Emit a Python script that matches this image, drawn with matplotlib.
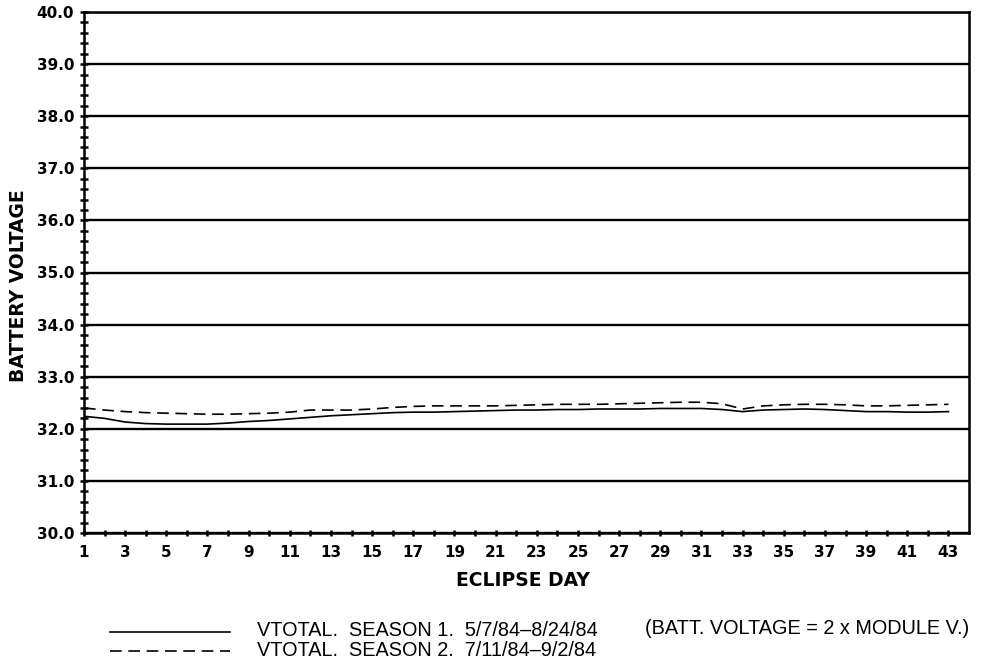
import matplotlib
matplotlib.use("Agg")
import matplotlib.pyplot as plt
import numpy as np

days = list(range(1, 44))
season1 = [32.24, 32.20, 32.13, 32.10, 32.09, 32.09, 32.09, 32.11, 32.14, 32.16,
           32.19, 32.22, 32.25, 32.27, 32.29, 32.31, 32.32, 32.32, 32.33, 32.34,
           32.35, 32.36, 32.36, 32.37, 32.37, 32.38, 32.38, 32.38, 32.39, 32.39,
           32.39, 32.37, 32.33, 32.36, 32.37, 32.38, 32.37, 32.35, 32.33, 32.33,
           32.32, 32.32, 32.33]
season2 = [32.40, 32.36, 32.33, 32.31, 32.30, 32.29, 32.28, 32.28, 32.29, 32.30,
           32.32, 32.36, 32.36, 32.36, 32.38, 32.41, 32.43, 32.44, 32.44, 32.44,
           32.44, 32.45, 32.46, 32.47, 32.47, 32.47, 32.48, 32.49, 32.50, 32.51,
           32.51, 32.48, 32.38, 32.44, 32.46, 32.47, 32.47, 32.46, 32.44, 32.44,
           32.45, 32.46, 32.47]
x_ticks = list(range(1, 44, 2))
y_ticks = [30.0, 31.0, 32.0, 33.0, 34.0, 35.0, 36.0, 37.0, 38.0, 39.0, 40.0]
label1 = "VTOTAL.  SEASON 1.  5/7/84\u20138/24/84"
label2 = "VTOTAL.  SEASON 2.  7/11/84\u20139/2/84"
note = "(BATT. VOLTAGE = 2 x MODULE V.)"

W, H = 989, 662
fig = plt.figure(figsize=(9.89, 6.62), dpi=100)
ax = fig.add_axes([84/W, 1-533/H, (969-84)/W, (533-12)/H])

for y in y_ticks:
    ax.axhline(y, color="black", lw=1.7, zorder=1)

ax.plot(days, season1, color="black", lw=1.2, zorder=3)
ax.plot(days, season2, color="black", lw=1.2, ls=(0, (7, 4)), zorder=3)

ax.set_xlim(1, 44.0)
ax.set_ylim(30, 40)
ax.set_xticks(x_ticks)
ax.set_xticks(days, minor=True)
ax.set_yticks(y_ticks)
ax.set_yticks(np.arange(30, 40.01, 0.2), minor=True)
ax.set_xticklabels([str(d) for d in x_ticks], fontsize=11, fontweight="bold")
ax.set_yticklabels([f"{v:.1f}" for v in y_ticks], fontsize=11, fontweight="bold")
ax.tick_params(axis="y", which="both", direction="inout", length=6, width=1.8, pad=4)
ax.tick_params(axis="x", which="both", direction="inout", length=5, width=1.8, pad=6)
for s in ax.spines.values():
    s.set_linewidth(1.8)

fig.text(19/W, 1-286/H, "BATTERY VOLTAGE", rotation=90, ha="center", va="center",
         fontsize=13.5, fontweight="bold")
fig.text(523/W, 1-581/H, "ECLIPSE DAY", ha="center", va="center",
         fontsize=13.5, fontweight="bold")

# legend
fig.add_artist(plt.Line2D([110/W, 230/W], [1-632/H, 1-632/H], color="black", lw=1.2))
fig.add_artist(plt.Line2D([110/W, 230/W], [1-651/H, 1-651/H], color="black", lw=1.2,
                          ls=(0, (7, 4))))
fig.text(257/W, 1-631/H, label1, ha="left", va="center", fontsize=14.3,
         family="Liberation Sans")
fig.text(257/W, 1-650/H, label2, ha="left", va="center", fontsize=14.3,
         family="Liberation Sans")
fig.text(645/W, 1-629/H, note, ha="left", va="center", fontsize=14.3,
         family="Liberation Sans")

fig.savefig("out.png", dpi=100)
